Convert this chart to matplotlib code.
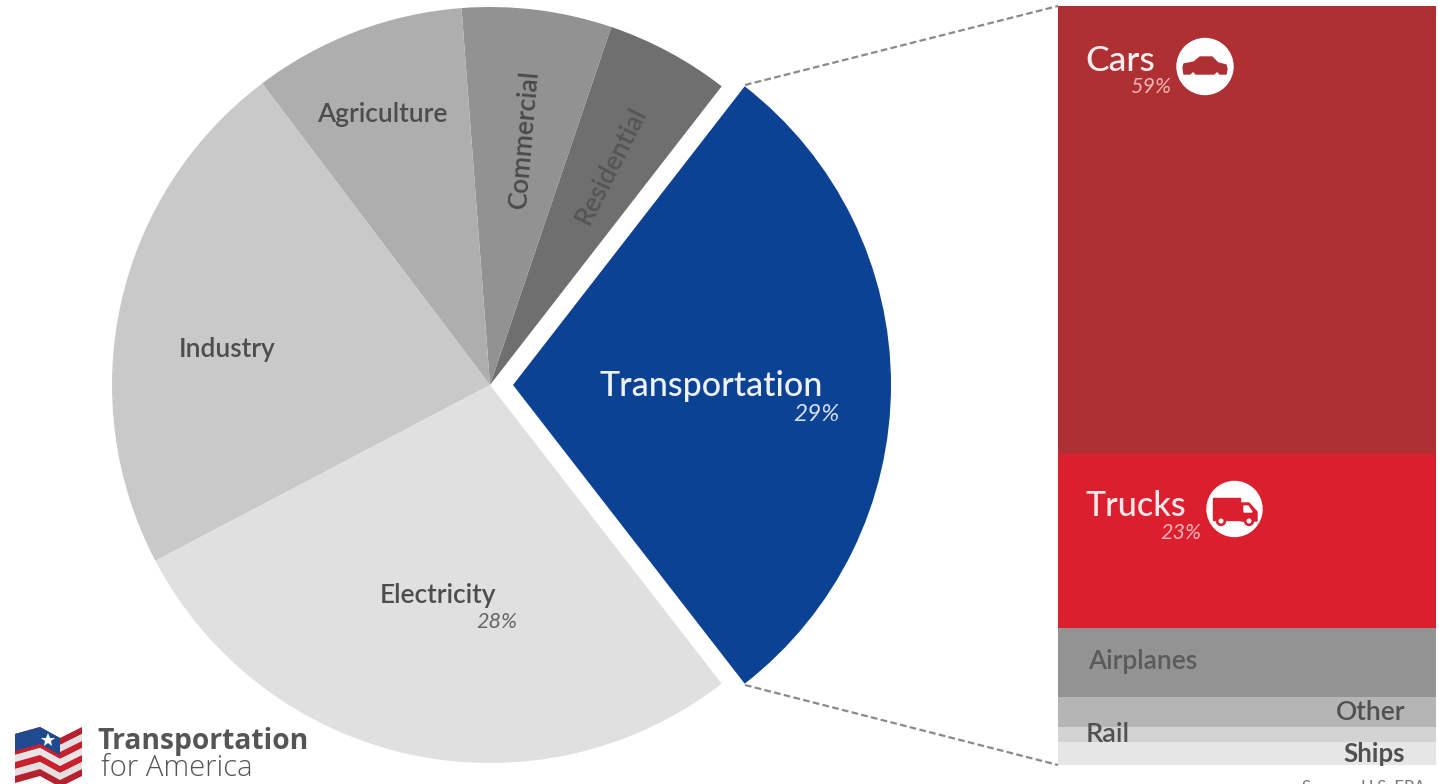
import matplotlib
matplotlib.use("Agg")
import matplotlib.pyplot as plt
from matplotlib.patches import Circle, Polygon, Rectangle

plt.rcParams["font.family"] = ["Lato", "DejaVu Sans"]

W, H = 1439, 784

# Pie: sectors, share of emissions
sectors = ["Transportation", "Residential", "Commercial", "Agriculture", "Industry", "Electricity"]
sector_values = [29, 5.3, 6.4, 9.1, 22.4, 27.8]
sector_colors = ["#0b4294", "#6f6f6f", "#929292", "#aeaeae", "#c9c9c9", "#e0e0e0"]

# Stacked column: breakdown of transportation, top to bottom
modes = ["Cars", "Trucks", "Airplanes", "Other", "Rail", "Ships"]
mode_values = [59, 23, 9, 4, 2, 3]
mode_colors = ["#ae3033", "#dc1f2e", "#939393", "#b5b5b5", "#d3d3d3", "#e6e6e6"]

fig = plt.figure(figsize=(W / 100, H / 100), dpi=100, facecolor="white")


def pix_axes(left, top, right, bottom):
    return fig.add_axes([left / W, 1 - bottom / H, (right - left) / W, (bottom - top) / H])


# Pie, centre (490, 385), radius 378 px
R = 378
ax_pie = pix_axes(490 - R - 30, 385 - R - 30, 490 + R + 30, 385 + R + 30)
explode = [23 / R] + [0] * 5
ax_pie.pie(sector_values, colors=sector_colors, startangle=-52.2, counterclock=True,
           explode=explode, radius=1)
ax_pie.set_xlim(-(R + 30) / R, (R + 30) / R)
ax_pie.set_ylim(-(R + 30) / R, (R + 30) / R)
ax_pie.set_axis_off()

# Stacked column
ax_bar = pix_axes(1058, 6, 1436, 765)
bottom = 0
for value, color in zip(mode_values, mode_colors):
    ax_bar.bar(0, value, width=1, bottom=bottom, color=color, linewidth=0)
    bottom += value
ax_bar.set_xlim(-0.5, 0.5)
ax_bar.set_ylim(100, 0)
ax_bar.set_axis_off()

# Overlay in pixel coordinates for labels, connector lines and icons
ax = fig.add_axes([0, 0, 1, 1], facecolor="none")
ax.set_xlim(0, W)
ax.set_ylim(H, 0)
ax.set_axis_off()

ax.plot([745, 1058], [85, 6], color="#8a8a8a", lw=1.6, ls=(0, (3, 1.5)))
ax.plot([745, 1058], [685, 765], color="#8a8a8a", lw=1.6, ls=(0, (3, 1.5)))

dark = "#4d4d4d"


def label(x, y, s, size=19, color=dark, **kw):
    ax.text(x, y, s, fontsize=size, color=color, ha="center", va="center", **kw)


label(382, 114, "Agriculture", weight="semibold")
label(227, 349, "Industry", weight="semibold")
label(438, 596, "Electricity", weight="semibold")
label(497, 622, "28%", size=15.5, style="italic", color="#666666")
label(524, 139, "Commercial", rotation=85, color="#4a4a4a", weight="semibold")
label(611, 166, "Residential", rotation=63, color="#555555", weight="semibold")
label(711, 386, "Transportation", size=24.5, color="#eef2f8", weight="medium")
label(816, 414, "29%", size=17.5, style="italic", color="#d5deee")

label(1120, 61, "Cars", size=25.5, color="#fbeeee", weight="medium")
label(1151, 87, "59%", size=15.5, style="italic", color="#f0b4b4")
label(1136, 506, "Trucks", size=24.5, color="#fde9ea", weight="medium")
label(1181, 533, "23%", size=15.5, style="italic", color="#f7b2b6")
label(1143, 662, "Airplanes", size=19, color="#5a5a5a", weight="semibold")
label(1371, 712, "Other", size=19, color="#505050", weight="semibold")
label(1108, 735, "Rail", size=19.5, color="#505050", weight="semibold")
label(1374, 754, "Ships", size=18.5, color="#505050", weight="bold")
# cut by the bottom edge in the reference too
ax.text(1425, 780, "Source: U.S. EPA", fontsize=12, color="#777777", ha="right", va="top",
        clip_on=True)

# Car icon
ax.add_patch(Circle((1205, 66.5), 28, color="white", zorder=3))
car = [(1183, 68), (1184, 64), (1194, 62), (1200, 57), (1212, 57), (1218, 63), (1226, 65),
       (1227, 69), (1226, 74), (1220, 74), (1217, 71), (1214, 74), (1196, 74), (1193, 71),
       (1190, 74), (1184, 74)]
ax.add_patch(Polygon(car, color="#ae3033", zorder=4))

# Truck icon
ax.add_patch(Circle((1234.5, 509), 27.5, color="white", zorder=3))
ax.add_patch(Rectangle((1213, 498), 27, 22, color="#dc1f2e", zorder=4))
cab = [(1241, 503), (1249, 503), (1257, 512), (1257, 521), (1241, 521)]
ax.add_patch(Polygon(cab, color="#dc1f2e", zorder=4))
ax.add_patch(Polygon([(1244, 506), (1248, 506), (1252, 512), (1244, 512)], color="white", zorder=5))
for cx in (1221, 1249):
    ax.add_patch(Circle((cx, 521), 4.5, color="#dc1f2e", zorder=5))
    ax.add_patch(Circle((cx, 521), 1.8, color="white", zorder=6))

# Logo flag
knots = [15, 40, 60, 82]
tops = [734, 727, 738, 727]
stripe_colors = ["#b5212e", "#e4dfe0", "#c8202d", "#e9e4e5", "#c8202d", "#e4dfe0", "#b5212e"]
stripe_h = 7
for i, c in enumerate(stripe_colors):
    upper = [(x, y + i * stripe_h) for x, y in zip(knots, tops)]
    lower = [(x, y + (i + 1) * stripe_h) for x, y in zip(knots, tops)]
    ax.add_patch(Polygon(upper + lower[::-1], color=c, lw=0))
ax.add_patch(Polygon([(15, 734), (40, 727), (60, 738), (60, 755), (40, 744), (15, 751)],
                     color="#1f4a8f", lw=0))
ax.plot([48], [740], marker="*", ms=10, color="white", mew=0)

ax.text(97, 741, "Transportation", fontsize=20.3, fontfamily="Open Sans", weight="bold",
        color="#555555", ha="left", va="center")
ax.text(101, 768, "for America", fontsize=21, fontfamily="Open Sans", weight="light",
        color="#555555", ha="left", va="center")

fig.savefig("out.png", dpi=100, facecolor="white")
